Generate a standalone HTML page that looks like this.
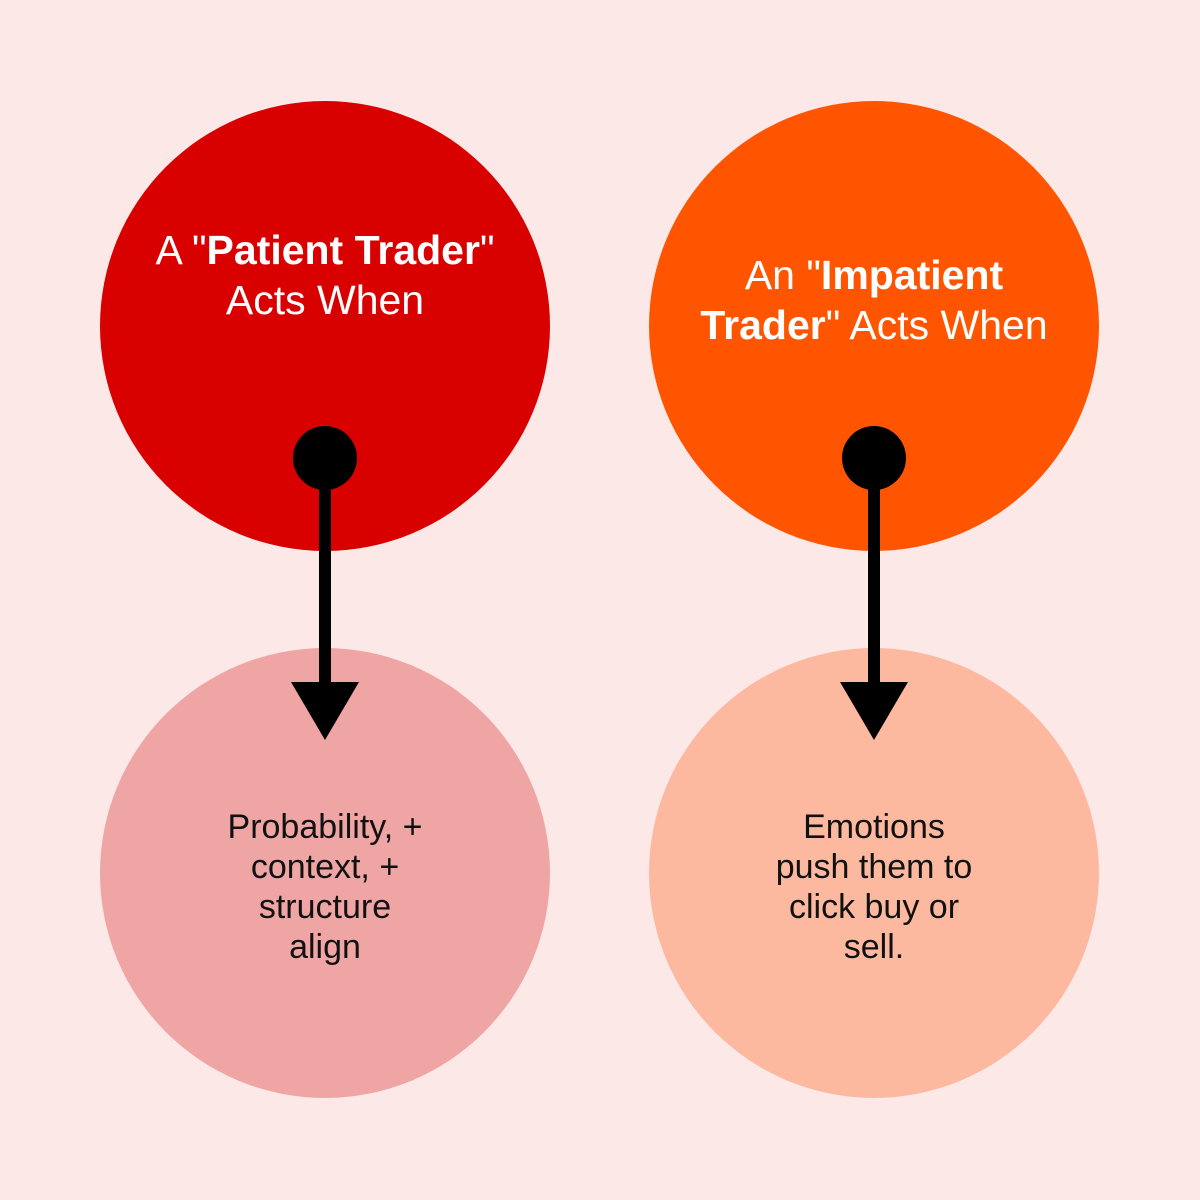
<!DOCTYPE html>
<html><head><meta charset="utf-8"><style>
html,body{margin:0;padding:0;background:#fde8e8;}
svg{display:block}
text{font-family:"Liberation Sans",sans-serif;}
</style></head><body>
<svg width="1200" height="1200" viewBox="0 0 1200 1200">
<rect width="1200" height="1200" fill="#fde8e8"/>
<circle cx="325" cy="326" r="225" fill="#d90000"/>
<circle cx="874" cy="326" r="225" fill="#ff5500"/>
<circle cx="325" cy="873" r="225" fill="#f0a5a5"/>
<circle cx="874" cy="873" r="225" fill="#fdb9a0"/>
<g fill="#fff" font-size="41" text-anchor="middle">
<text x="325" y="264">A "<tspan font-weight="bold">Patient Trader</tspan>"</text>
<text x="325" y="314">Acts When</text>
<text x="874" y="289">An "<tspan font-weight="bold">Impatient</tspan></text>
<text x="874" y="339"><tspan font-weight="bold">Trader</tspan>" Acts When</text>
</g>
<g fill="#111" font-size="34" text-anchor="middle">
<text x="325" y="838">Probability, +</text>
<text x="325" y="878">context, +</text>
<text x="325" y="918">structure</text>
<text x="325" y="958">align</text>
<text x="874" y="838">Emotions</text>
<text x="874" y="878">push them to</text>
<text x="874" y="918">click buy or</text>
<text x="874" y="958">sell.</text>
</g>
<g fill="#000">
<circle cx="325" cy="458" r="32"/>
<rect x="319" y="458" width="12" height="228"/>
<polygon points="291,682 359,682 325,740"/>
<circle cx="874" cy="458" r="32"/>
<rect x="868" y="458" width="12" height="228"/>
<polygon points="840,682 908,682 874,740"/>
</g>
</svg>
</body></html>
